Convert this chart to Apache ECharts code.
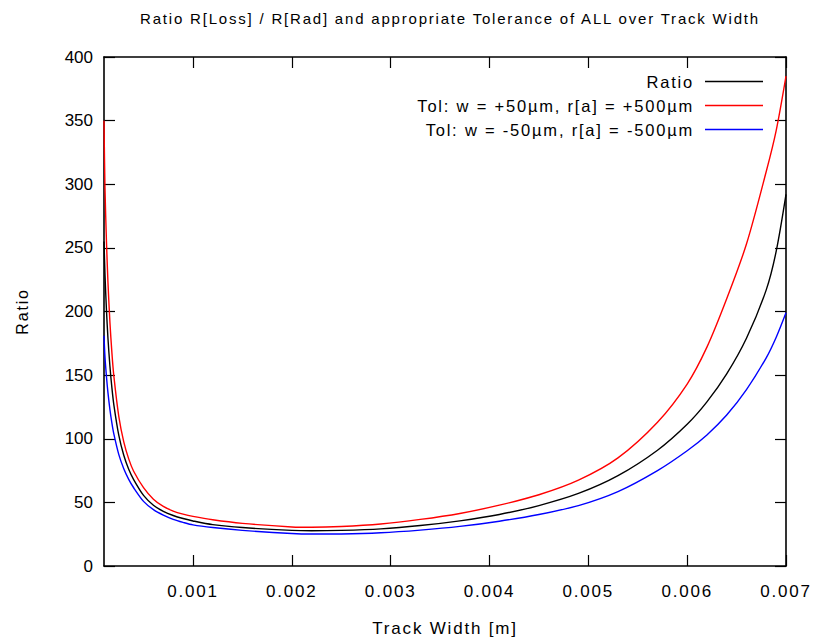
<!DOCTYPE html>
<html>
<head>
<meta charset="utf-8">
<script src="https://cdn.jsdelivr.net/npm/echarts@6/dist/echarts.min.js"></script>
<style>
  html, body { margin: 0; padding: 0; background: #fff; }
  #chart { width: 816px; height: 642px; }
  /* gnuplot-like loose letter spacing for most text */
  #chart svg text { letter-spacing: 1.8px; }
  /* y tick labels are set tight */
  #chart svg text[style*="Arimo"],
  #chart svg text[font-family*="Arimo"] { letter-spacing: 0; }
</style>
</head>
<body>
<div id="chart"></div>
<script>
// Track width samples [m]
const trackWidth = [
  0.0001, 0.00011, 0.000125, 0.00014, 0.00016, 0.00018, 0.0002, 0.00025, 0.0003, 0.00035,
  0.0004, 0.0005, 0.0006, 0.0007, 0.0008, 0.0009, 0.001, 0.0012, 0.0015, 0.002,
  0.0022, 0.0025, 0.0029, 0.0033, 0.0037, 0.0041, 0.0045, 0.0049, 0.0053, 0.0057,
  0.006, 0.0062, 0.0064, 0.0066, 0.0068, 0.0069, 0.007
];

// R[Loss] / R[Rad]
const ratio = [
  255, 229, 201, 179, 157, 140, 126.5, 102.6, 87, 76,
  67.9, 55.5, 47.8, 43, 39.7, 37.3, 35.4, 32.5, 30.2, 28,
  27.7, 28, 29.2, 31.8, 35.5, 40.5, 47.5, 57, 71, 91,
  111.4, 129, 151, 179, 217, 247, 292
];

// Tolerance w = +50µm, r[a] = +500µm
const tolPlus = [
  350, 296.6, 255, 223, 191.4, 167.5, 149, 117.4, 97.6, 84.2,
  74.5, 61.6, 52.5, 46.8, 43.2, 40.8, 39, 36.3, 33.5, 30.7,
  30.4, 31, 33, 36.6, 41.3, 47.8, 56, 67.5, 85, 113,
  143, 172, 210, 253, 310, 342, 385
];

// Tolerance w = -50µm, r[a] = -500µm
const tolMinus = [
  181, 164.2, 148.7, 136.2, 122.9, 112.3, 103.6, 87.5, 76.4, 68.1,
  61.5, 50.8, 44.3, 40, 36.7, 34.3, 32.3, 30.2, 28, 25.5,
  25.1, 25.2, 26.1, 28.2, 31.1, 35.2, 40.5, 47.5, 58.5, 75,
  90.6, 103, 118.6, 138.6, 163.6, 179.6, 199
];

const xTicks = [0.001, 0.002, 0.003, 0.004, 0.005, 0.006, 0.007];
const seriesNames = ['Ratio', 'Tol: w = +50µm, r[a] = +500µm', 'Tol: w = -50µm, r[a] = -500µm'];
const seriesColors = ['#000000', '#ff0000', '#0000ff'];
const seriesValues = [ratio, tolPlus, tolMinus];

const FONT = 'Liberation Sans, Arial, Helvetica, sans-serif';
const FONT_TIGHT = 'Arimo, Liberation Sans, Arial, sans-serif';

const pairs = vals => trackWidth.map((w, i) => [w, vals[i]]);

const tickStyle = { inside: true, length: 11, lineStyle: { color: '#000', width: 1.2 } };
const lineStyle = { color: '#000', width: 1.6 };

const chart = echarts.init(document.getElementById('chart'), null, { renderer: 'svg' });

chart.setOption({
  animation: false,
  backgroundColor: '#fff',
  title: {
    text: 'Ratio R[Loss] / R[Rad] and appropriate Tolerance of ALL over Track Width',
    left: 445, top: 6, textAlign: 'center',
    textStyle: { fontFamily: FONT, fontSize: 15, fontWeight: 'normal', color: '#000' }
  },
  grid: { left: 104, right: 30, top: 57, bottom: 74, containLabel: false },
  legend: seriesNames.map((name, i) => ({
    data: [name],
    right: 48,
    top: 68 + i * 24,
    align: 'right',
    orient: 'vertical',
    icon: 'rect',
    itemWidth: 58,
    itemHeight: 1.5,
    itemGap: 0,
    selectedMode: false,
    textStyle: { fontFamily: FONT, fontSize: 16.5, color: '#000', padding: [0, 6, 0, 0] }
  })),
  xAxis: [
    {
      type: 'value', min: 0.0001, max: 0.007, position: 'bottom',
      name: 'Track Width [m]', nameLocation: 'middle', nameGap: 54,
      nameTextStyle: { fontFamily: FONT, fontSize: 17, color: '#000' },
      axisLine: { show: true, onZero: false, lineStyle },
      axisTick: Object.assign({ customValues: xTicks }, tickStyle),
      axisLabel: {
        customValues: xTicks, margin: 17,
        fontFamily: FONT, fontSize: 17, color: '#000',
        formatter: v => v.toFixed(3)
      },
      splitLine: { show: false }
    },
    {
      type: 'value', min: 0.0001, max: 0.007, position: 'top',
      axisLine: { show: true, onZero: false, lineStyle },
      axisTick: Object.assign({ customValues: xTicks }, tickStyle),
      axisLabel: { show: false },
      splitLine: { show: false }
    }
  ],
  yAxis: [
    {
      type: 'value', min: 0, max: 400, interval: 50, position: 'left',
      name: 'Ratio', nameLocation: 'middle', nameGap: 74, nameRotate: 90,
      nameTextStyle: { fontFamily: FONT, fontSize: 16, color: '#000' },
      axisLine: { show: true, onZero: false, lineStyle },
      axisTick: tickStyle,
      axisLabel: { margin: 11, fontFamily: FONT_TIGHT, fontSize: 17, color: '#000' },
      splitLine: { show: false }
    },
    {
      type: 'value', min: 0, max: 400, interval: 50, position: 'right',
      axisLine: { show: true, onZero: false, lineStyle },
      axisTick: tickStyle,
      axisLabel: { show: false },
      splitLine: { show: false }
    }
  ],
  series: seriesNames.map((name, i) => ({
    name,
    type: 'line',
    xAxisIndex: 0,
    yAxisIndex: 0,
    data: pairs(seriesValues[i]),
    showSymbol: false,
    symbol: 'none',
    smooth: 0.3,
    color: seriesColors[i],
    lineStyle: { color: seriesColors[i], width: 1.4 },
    z: 3 - i
  }))
});
</script>
</body>
</html>
